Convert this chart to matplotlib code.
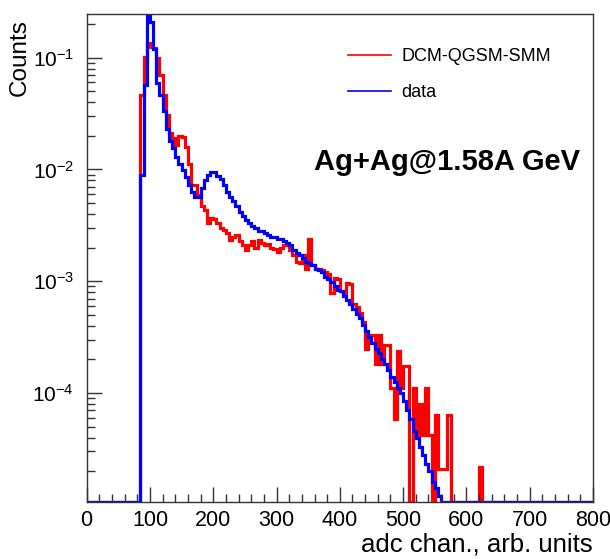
import numpy as np
import matplotlib
matplotlib.use("Agg")
import matplotlib.pyplot as plt
from matplotlib.lines import Line2D
from matplotlib.ticker import LogLocator, MultipleLocator, NullFormatter

# histogram binning: 160 bins of 5 adc channels, 0..800
bin_width = 5
x_min, x_max = 0, 800
first_bin = 85  # lower edge of the first filled bin

# data (blue), normalised counts per bin starting at first_bin
data_counts = [
    0.0089, 0.057, 0.26, 0.21, 0.12, 0.059, 0.046, 0.033, 0.023, 0.0178,
    0.0155, 0.013, 0.0113, 0.0099, 0.0086, 0.0073, 0.0063, 0.0057, 0.0057, 0.0068,
    0.0080, 0.0089, 0.0094, 0.0094, 0.0088, 0.0083, 0.0073, 0.0063, 0.0057, 0.0052,
    0.0047, 0.0042, 0.0038, 0.0035, 0.0033, 0.0031, 0.0030, 0.0028, 0.0028, 0.0027,
    0.0026, 0.0025, 0.0025, 0.0024, 0.0024, 0.0023, 0.0022, 0.0021, 0.0019, 0.0018,
    0.0017, 0.0016, 0.0015, 0.00145, 0.0014, 0.0013, 0.00125, 0.0012, 0.0011, 0.00105,
    0.00098, 0.0009, 0.00084, 0.00081, 0.00074, 0.00068, 0.00063, 0.00057, 0.00051, 0.00047,
    0.00041, 0.00036, 0.00032, 0.00028, 0.00025, 0.00023, 0.0002, 0.00018, 0.00016, 0.00014,
    0.000125, 0.00011, 0.0001, 8.5e-5, 7e-5, 5.8e-5, 4.6e-5, 4.0e-5, 3.3e-5, 2.8e-5,
    2.3e-5, 2.0e-5, 1.6e-5, 1.4e-5, 1.2e-5,
]

# DCM-QGSM-SMM model (red)
model_counts = [
    0.046, 0.102, 0.134, 0.125, 0.121, 0.099, 0.070, 0.046, 0.031, 0.021,
    0.019, 0.0165, 0.0199, 0.0195, 0.016, 0.0113, 0.0073, 0.0072, 0.0059, 0.0047,
    0.0043, 0.0033, 0.0037, 0.0036, 0.0033, 0.0030, 0.0029, 0.0027, 0.00235, 0.0025,
    0.0026, 0.0023, 0.00213, 0.0019, 0.00213, 0.0023, 0.0020, 0.00235, 0.0022, 0.0021,
    0.00215, 0.0020, 0.00195, 0.00184, 0.0020, 0.0021, 0.00213, 0.0019, 0.0017, 0.0015,
    0.00146, 0.0017, 0.0013, 0.0024, 0.0014, 0.00128, 0.0013, 0.00125, 0.0012, 0.00115,
    0.00078, 0.00106, 0.00104, 0.00081, 0.00075, 0.00096, 0.00095, 0.00062, 0.00059, 0.00052,
    0.00043, 0.00025, 0.00033, 0.00033, 0.00018, 0.00033, 0.00018, 0.00027, 0.00027, 0.00011,
    5.9e-5, 0.00024, 0.00011, 0.000175, 0.000175, 0.0, 0.00011, 4.2e-5, 8e-5, 4.2e-5,
    0.00011, 4.2e-5, 0.0, 6.4e-5, 2.1e-5, 2.1e-5, 2.1e-5, 6.4e-5, 0.0, 0.0,
    0.0, 0.0, 0.0, 0.0, 0.0, 0.0, 0.0, 2.2e-5,
]

x_ticks = [0, 100, 200, 300, 400, 500, 600, 700, 800]
y_ticks = [1e-4, 1e-3, 1e-2, 1e-1]
y_tick_labels = [r"$10^{-4}$", r"$10^{-3}$", r"$10^{-2}$", r"$10^{-1}$"]
y_lim = (1.06e-5, 0.246)

legend_labels = ["DCM-QGSM-SMM", "data"]
title_text = "Ag+Ag@1.58A GeV"
x_title = "adc chan., arb. units"
y_title = "Counts"


def full_hist(counts):
    n_bins = (x_max - x_min) // bin_width
    h = np.zeros(n_bins)
    start = (first_bin - x_min) // bin_width
    h[start:start + len(counts)] = counts
    # ROOT draws empty bins on the bottom of a log frame
    return np.where(h > 0, h, y_lim[0])


plt.rcParams["font.family"] = ["Liberation Sans", "DejaVu Sans"]
plt.rcParams["mathtext.default"] = "regular"

edges = np.arange(x_min, x_max + bin_width, bin_width)

fig = plt.figure(figsize=(6.10, 5.59), dpi=100)
ax = fig.add_axes([0.1421, 0.102, 0.830, 0.873])

ax.stairs(full_hist(model_counts), edges, baseline=None, color="#ff0000", lw=2.3)
ax.stairs(full_hist(data_counts), edges, baseline=None, color="#0000ff", lw=2.3)

ax.set_yscale("log")
ax.set_xlim(x_min, x_max)
ax.set_ylim(*y_lim)

ax.set_xticks(x_ticks)
ax.xaxis.set_minor_locator(MultipleLocator(20))
ax.yaxis.set_minor_locator(LogLocator(base=10, subs=np.arange(2, 10), numticks=50))
ax.yaxis.set_minor_formatter(NullFormatter())
ax.set_yticks(y_ticks)
ax.set_yticklabels(y_tick_labels)

ax.tick_params(which="both", direction="in", top=False, right=False, colors="#333333",
               labelcolor="black")
ax.tick_params(which="major", length=11, width=1)
ax.tick_params(which="minor", length=5.5, width=1)
ax.tick_params(axis="x", pad=6, labelsize=15.5)
ax.tick_params(axis="y", pad=9, labelsize=15)
for s in ax.spines.values():
    s.set_linewidth(1)
    s.set_color("#333333")

ax.set_xlabel(x_title, fontsize=18.5, loc="right", va="top")
ax.xaxis.set_label_coords(1.0, -0.063)
ax.set_ylabel(y_title, fontsize=17.5, loc="top")
ax.yaxis.set_label_coords(-0.11, 0.99)

handles = [Line2D([], [], color="#ff0000", lw=1.2), Line2D([], [], color="#0000ff", lw=1.2)]
ax.legend(handles, legend_labels, loc="upper left", bbox_to_anchor=(0.516, 0.93),
          frameon=False, fontsize=13, handlelength=2.4, handletextpad=0.55,
          labelspacing=1.05, borderpad=0, borderaxespad=0)

ax.text(0.449, 0.697, title_text, transform=ax.transAxes, ha="left", va="center",
        fontsize=21, fontweight="bold")

fig.savefig("out.png", dpi=100)
